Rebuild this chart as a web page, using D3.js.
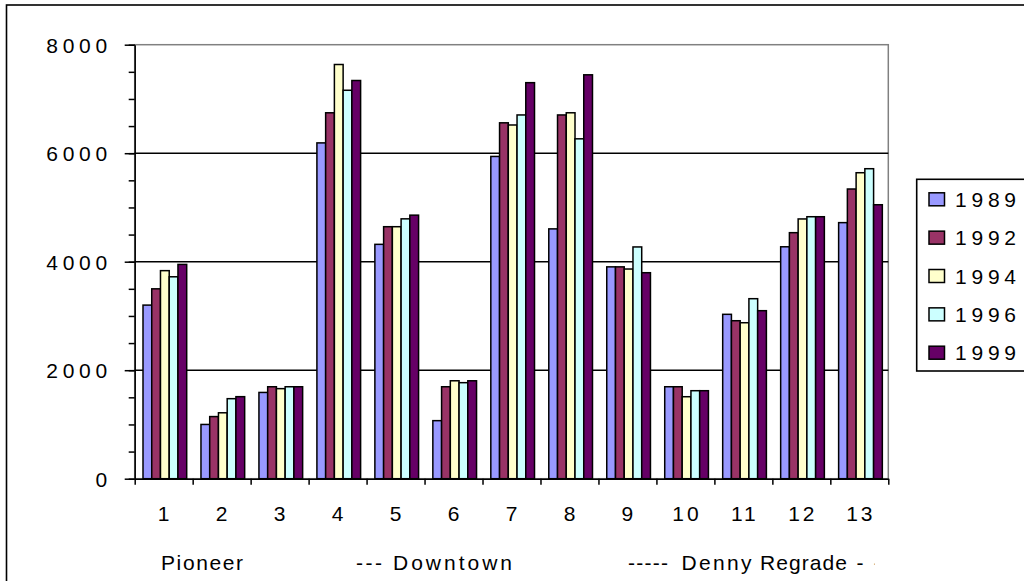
<!DOCTYPE html>
<html>
<head>
<meta charset="utf-8">
<script src="https://cdn.jsdelivr.net/npm/d3@7"></script>
<style>
  html, body { margin: 0; padding: 0; background: #fff; }
  svg { display: block; }
  text { font-family: "Liberation Sans", Arial, sans-serif; fill: #000; }
</style>
</head>
<body>
<svg id="chart" width="1024" height="581"></svg>
<script>
// Blocks along the corridor, numbered 1..13
const categories = ["1","2","3","4","5","6","7","8","9","10","11","12","13"];
const years = ["1989","1992","1994","1996","1999"];

// Counts per block for each survey year
const v1989 = [3200, 1000, 1590, 6190, 4320, 1070, 5940, 4605, 3905, 1695, 3030, 4275, 4720];
const v1992 = [3500, 1145, 1695, 6745, 4645, 1695, 6560, 6705, 3905, 1695, 2912, 4535, 5340];
const v1994 = [3835, 1215, 1660, 7635, 4645, 1805, 6520, 6745, 3865, 1511, 2875, 4788, 5640];
const v1996 = [3722, 1475, 1695, 7160, 4790, 1770, 6705, 6265, 4272, 1622, 3318, 4829, 5714];
const v1999 = [3950, 1512, 1695, 7340, 4858, 1805, 7300, 7445, 3797, 1622, 3097, 4829, 5050];
const seriesValues = [v1989, v1992, v1994, v1996, v1999];

const colors = ["#9999FF", "#993366", "#FFFFCC", "#CCFFFF", "#660066"];

const yMajorTicks = [0, 2000, 4000, 6000, 8000];
const yMinorTicks = d3.range(0, 8001, 500);
const gridValues = [2000, 4000, 6000];

// Region names under the category axis
const regionLabels = [
  { text: "Pioneer", x: 161, w: 82 },
  { text: "---", x: 356, w: 26 },
  { text: "Downtown", x: 393, w: 119 },
  { text: "-----", x: 628, w: 40 },
  { text: "Denny", x: 681.5, w: 70 },
  { text: "Regrade", x: 760, w: 87 },
  { text: "- -", x: 856.5, w: 24 }
];

const svg = d3.select("#chart");
const lineW = 1.5;

// plot frame
const plotLeft = 134.7, plotRight = 888.3, plotTop = 44.7, plotBottom = 478.7;

const x = d3.scaleBand().domain(categories).range([plotLeft, plotRight]).paddingInner(0).paddingOuter(0);
const xEdge = d3.scaleLinear().domain([0, categories.length]).range([plotLeft, plotRight]);
const x1 = d3.scaleBand().domain(years).range([8.3, 52]);
const y = d3.scaleLinear().domain([0, 8000]).range([plotBottom, plotTop]);

// outer chart border (runs past the right and bottom edges)
svg.append("rect")
  .attr("x", 6.5).attr("y", 5)
  .attr("width", 1200).attr("height", 800)
  .attr("fill", "none").attr("stroke", "#000").attr("stroke-width", 1.6);

// plot area border
svg.append("rect")
  .attr("x", plotLeft).attr("y", plotTop)
  .attr("width", plotRight - plotLeft).attr("height", plotBottom - plotTop)
  .attr("fill", "none").attr("stroke", "#808080").attr("stroke-width", lineW);

// horizontal gridlines
svg.append("g").selectAll("line").data(gridValues).join("line")
  .attr("x1", plotLeft).attr("x2", plotRight)
  .attr("y1", d => y(d)).attr("y2", d => y(d))
  .attr("stroke", "#000").attr("stroke-width", lineW);

// bars
const groups = svg.append("g").selectAll("g").data(categories).join("g")
  .attr("transform", d => `translate(${x(d)},0)`);

groups.selectAll("rect")
  .data((d, i) => years.map((yr, k) => ({ yr, k, v: seriesValues[k][i] })))
  .join("rect")
  .attr("x", d => x1(d.yr))
  .attr("width", x1.bandwidth())
  .attr("y", d => y(d.v))
  .attr("height", d => y(0) - y(d.v))
  .attr("fill", d => colors[d.k])
  .attr("stroke", "#000")
  .attr("stroke-width", lineW);

// y axis: minor ticks, then major ticks with labels
const yMinor = svg.append("g").attr("transform", `translate(${plotLeft},0)`)
  .call(d3.axisLeft(y).tickValues(yMinorTicks).tickSize(6).tickFormat(""));
yMinor.select(".domain").remove();
yMinor.selectAll("line").attr("stroke", "#000").attr("stroke-width", lineW);

const yAxis = svg.append("g").attr("transform", `translate(${plotLeft},0)`)
  .call(d3.axisLeft(y).tickValues(yMajorTicks).tickSize(10).tickSizeOuter(0).tickPadding(0).tickFormat(d3.format("d")));
yAxis.select(".domain").attr("stroke", "#000").attr("stroke-width", lineW);
yAxis.selectAll("line").attr("stroke", "#000").attr("stroke-width", lineW);
yAxis.selectAll("text")
  .attr("x", -27.5)
  .attr("dy", "0.36em")
  .attr("font-size", 21)
  .attr("font-family", "Liberation Sans, Arial, sans-serif")
  .attr("textLength", d => d === 0 ? null : 61)
  .attr("lengthAdjust", "spacing")
  .attr("fill", "#000");

// x axis: tick marks at band edges
const xTicks = svg.append("g").attr("transform", `translate(0,${plotBottom})`)
  .call(d3.axisBottom(xEdge).tickValues(d3.range(0, categories.length + 1)).tickSize(6).tickSizeOuter(0).tickFormat(""));
xTicks.select(".domain").attr("stroke", "#000").attr("stroke-width", lineW);
xTicks.selectAll("line").attr("stroke", "#000").attr("stroke-width", lineW);

// x axis: category labels
const xLabels = svg.append("g").attr("transform", `translate(0,${plotBottom})`)
  .call(d3.axisBottom(x).tickSize(0).tickPadding(0));
xLabels.select(".domain").remove();
xLabels.selectAll("text")
  .attr("y", 42.5)
  .attr("dy", 0)
  .attr("font-size", 21)
  .attr("font-family", "Liberation Sans, Arial, sans-serif")
  .attr("letter-spacing", d => d.length > 1 ? "3px" : "0px")
  .attr("dx", d => d.length > 1 ? "1.5px" : "0px")
  .attr("fill", "#000");

// region names under the axis, clipped at the plot's right edge
svg.append("clipPath").attr("id", "titleClip")
  .append("rect").attr("x", 0).attr("y", 530).attr("width", 874.5).attr("height", 60);

svg.append("g").attr("clip-path", "url(#titleClip)")
  .selectAll("text").data(regionLabels).join("text")
  .attr("x", d => d.x)
  .attr("y", 569.5)
  .attr("font-size", 21)
  .attr("textLength", d => d.w)
  .attr("lengthAdjust", "spacing")
  .text(d => d.text);

// legend
const legend = svg.append("g");
legend.append("rect")
  .attr("x", 916.7).attr("y", 179.3)
  .attr("width", 300).attr("height", 191.7)
  .attr("fill", "#fff").attr("stroke", "#000").attr("stroke-width", 1.6);

const rowY = d3.scalePoint().domain(years).range([199.3, 352.7]);
const items = legend.selectAll("g.item").data(years).join("g").attr("class", "item")
  .attr("transform", d => `translate(0,${rowY(d)})`);
items.append("rect")
  .attr("x", 929).attr("y", -6.5)
  .attr("width", 15.5).attr("height", 13)
  .attr("fill", (d, i) => colors[i])
  .attr("stroke", "#000").attr("stroke-width", lineW);
items.append("text")
  .attr("x", 955).attr("y", 0).attr("dy", "0.36em")
  .attr("font-size", 21)
  .attr("textLength", 61)
  .attr("lengthAdjust", "spacing")
  .text(d => d);
</script>
</body>
</html>
